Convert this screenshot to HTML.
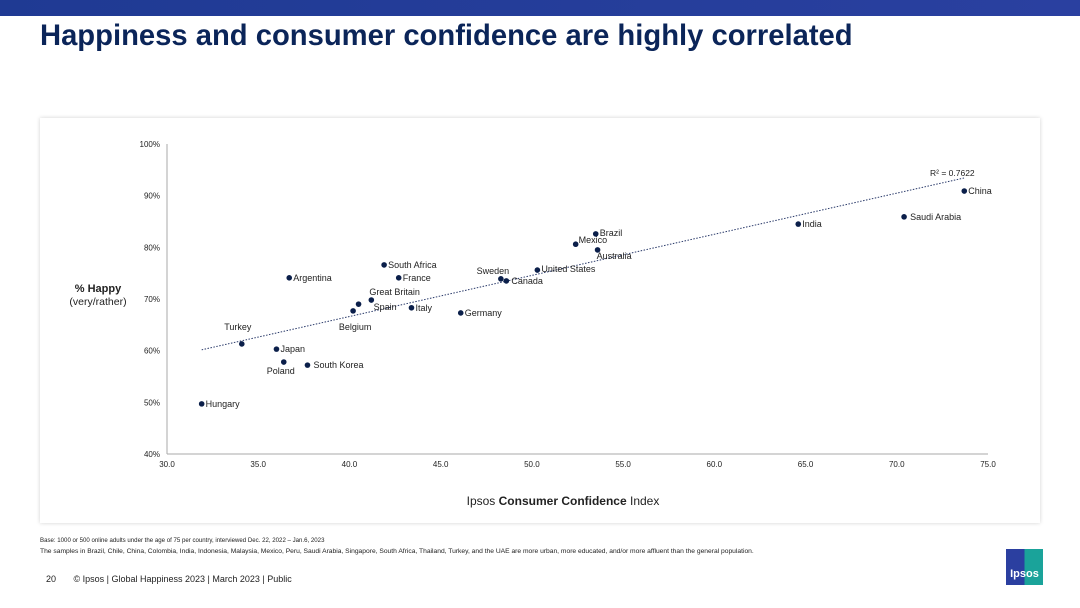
<!DOCTYPE html>
<html><head><meta charset="utf-8"><style>
body{margin:0;width:1080px;height:608px;background:#fff;font-family:"Liberation Sans",sans-serif;position:relative;overflow:hidden}
.abs{position:absolute}
</style></head><body>
<div class="abs" style="left:0;top:0;width:1080px;height:16px;background:linear-gradient(90deg,#1f3a93,#2a40a0)"></div>
<div class="abs" style="left:40px;top:20px;font-size:29.2px;font-weight:bold;color:#0b2559">Happiness and consumer confidence are highly correlated</div>
<div class="abs" style="left:40px;top:118px;width:1000px;height:405px;background:#fff;box-shadow:0 0 4px rgba(0,0,0,0.18)"></div>
<svg class="abs" style="left:0;top:0" width="1080" height="608" font-family="Liberation Sans, sans-serif">
<g id="g"></g>
</svg>
<div class="abs" style="left:40px;top:537px;font-size:6.1px;color:#222;white-space:nowrap">Base: 1000 or 500 online adults under the age of 75 per country, interviewed Dec. 22, 2022 – Jan.6, 2023</div>
<div class="abs" style="left:40px;top:548px;font-size:6.7px;color:#222;white-space:nowrap">The samples in Brazil, Chile, China, Colombia, India, Indonesia, Malaysia, Mexico, Peru, Saudi Arabia, Singapore, South Africa, Thailand, Turkey, and the UAE are more urban, more educated, and/or more affluent than the general population.</div>
<div class="abs" style="left:46px;top:574px;font-size:9px;color:#222;white-space:nowrap">20&nbsp;&nbsp;&nbsp;&nbsp;&nbsp;&nbsp;&nbsp;© Ipsos | Global Happiness 2023 | March 2023 | Public</div>
<div class="abs" style="left:1006px;top:549px;width:37px;height:36px;background:linear-gradient(90deg,#2b3fa0 50%,#1aa39a 50%);color:#fff;font-size:11px;font-weight:bold;text-align:center;line-height:50px">Ipsos</div>
<script>
const countries=["Hungary","Turkey","Japan","Poland","South Korea","Argentina","South Africa","France","Great Britain","Spain","Belgium","Italy","Germany","Sweden","Canada","United States","Mexico","Brazil","Australia","India","Saudi Arabia","China"];
const cci=[31.9,34.1,36.0,36.4,37.7,36.7,41.9,42.7,41.2,40.5,40.2,43.4,46.1,48.3,48.6,50.3,52.4,53.5,53.6,64.6,70.4,73.7];
const happy=[49.7,61.3,60.3,57.8,57.2,74.1,76.6,74.1,69.8,69.0,67.7,68.3,67.3,73.9,73.5,75.6,80.6,82.6,79.5,84.5,85.9,90.9];
const xTicks=[30,35,40,45,50,55,60,65,70,75];
const yTicks=[40,50,60,70,80,90,100];
const off={"Hungary":[4,3,"start"],"Turkey":[-4,-14,"middle"],"Japan":[4,3,"start"],"Poland":[-3,12,"middle"],"South Korea":[6,3,"start"],"Argentina":[4,3,"start"],"South Africa":[4,3,"start"],"France":[4,3,"start"],"Great Britain":[-2,-5,"start"],"Spain":[15,6,"start"],"Belgium":[2,19,"middle"],"Italy":[4,3,"start"],"Germany":[4,3,"start"],"Sweden":[-8,-5,"middle"],"Canada":[5,3,"start"],"United States":[4,2,"start"],"Mexico":[3,-1,"start"],"Brazil":[4,2,"start"],"Australia":[-1,9,"start"],"India":[4,3,"start"],"Saudi Arabia":[6,3,"start"],"China":[4,3,"start"]};
const X=v=>167+(v-30)*(821/45), Y=v=>454-(v-40)*(310/60);
const g=document.getElementById('g'),NS="http://www.w3.org/2000/svg";
function el(t,a,txt){const e=document.createElementNS(NS,t);for(const k in a)e.setAttribute(k,a[k]);if(txt!=null)e.textContent=txt;g.appendChild(e);return e;}
let e=el('line',{x1:167,y1:144,x2:167,y2:454,stroke:'#aaa'});

e=el('line',{x1:167,y1:454,x2:988,y2:454,stroke:'#aaa'});

xTicks.forEach(t=>{e=el('text',{x:X(t),y:467,'font-size':8,'text-anchor':'middle',fill:'#222'},t.toFixed(1));
});
yTicks.forEach(t=>{e=el('text',{x:160,y:Y(t)+3,'font-size':8,'text-anchor':'end',fill:'#222'},t+'%');
});
const n=cci.length,mx=cci.reduce((a,b)=>a+b)/n,my=happy.reduce((a,b)=>a+b)/n;
let sxy=0,sxx=0;for(let i=0;i<n;i++){sxy+=(cci[i]-mx)*(happy[i]-my);sxx+=(cci[i]-mx)**2;}
const b=sxy/sxx,a=my-b*mx,x0=Math.min(...cci),x1=Math.max(...cci);
e=el('line',{x1:X(x0),y1:Y(a+b*x0),x2:X(x1),y2:Y(a+b*x1),stroke:'#2a3a6a','stroke-dasharray':'1.5,1.5','stroke-width':1});

e=el('text',{x:930,y:176,'font-size':8.5,fill:'#222'},'R² = 0.7622');

countries.forEach((c,i)=>{const px=X(cci[i]),py=Y(happy[i]);
e=el('circle',{cx:px,cy:py,r:2.8,fill:'#0b1f4a'});

const o=off[c];e=el('text',{x:px+o[0],y:py+o[1],'font-size':9,'text-anchor':o[2],fill:'#222'},c);
});
e=el('text',{x:98,y:292,'font-size':11,'font-weight':'bold','text-anchor':'middle',fill:'#222'},'% Happy');

e=el('text',{x:98,y:305,'font-size':10.5,'text-anchor':'middle',fill:'#222'},'(very/rather)');

e=el('text',{x:563,y:505,'font-size':12,'text-anchor':'middle',fill:'#222'});
e.innerHTML='Ipsos <tspan font-weight="bold">Consumer Confidence</tspan> Index';

</script>
</body></html>
